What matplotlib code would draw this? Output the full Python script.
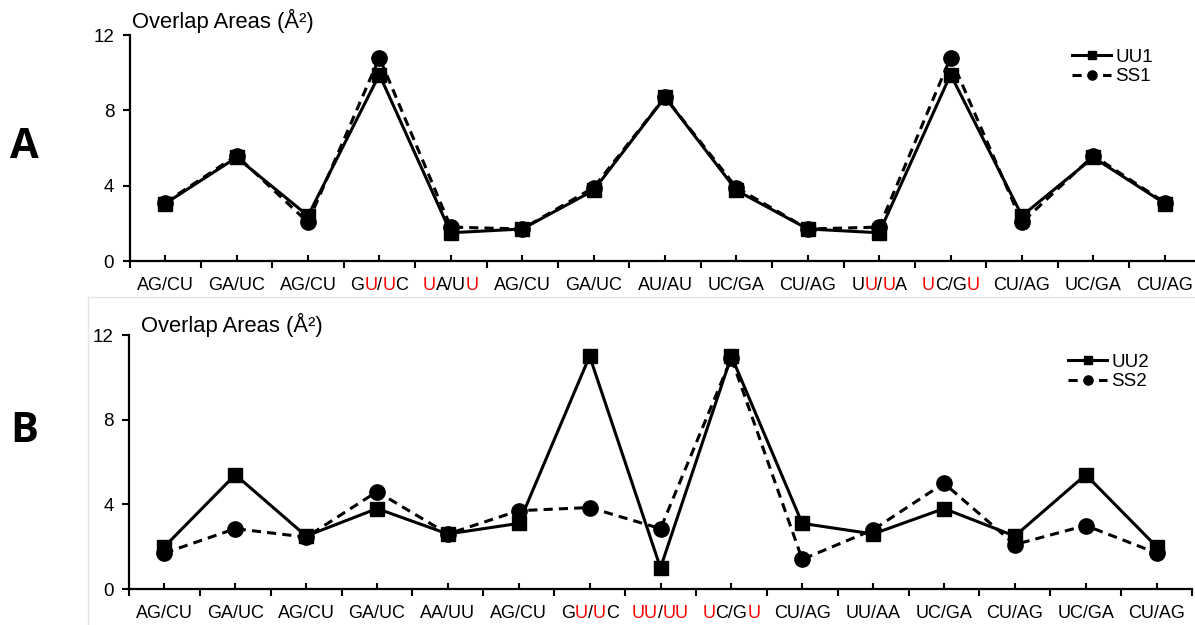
import matplotlib
matplotlib.use("Agg")
import matplotlib.pyplot as plt
from matplotlib.offsetbox import TextArea, HPacker, AnnotationBbox
from matplotlib.lines import Line2D

plt.rcParams['font.family'] = ['Liberation Sans', 'DejaVu Sans']

# panel A
labels_a = ["AG/CU", "GA/UC", "AG/CU", "GU/UC", "UA/UU", "AG/CU", "GA/UC", "AU/AU",
            "UC/GA", "CU/AG", "UU/UA", "UC/GU", "CU/AG", "UC/GA", "CU/AG"]
red_a = {3: [1, 3], 4: [0, 4], 10: [1, 3], 11: [0, 4]}
uu1 = [3.05, 5.5, 2.4, 9.9, 1.5, 1.7, 3.75, 8.7, 3.75, 1.7, 1.5, 9.9, 2.4, 5.5, 3.05]
ss1 = [3.1, 5.6, 2.05, 10.8, 1.8, 1.7, 3.9, 8.7, 3.9, 1.7, 1.8, 10.8, 2.05, 5.6, 3.1]

# panel B
labels_b = ["AG/CU", "GA/UC", "AG/CU", "GA/UC", "AA/UU", "AG/CU", "GU/UC", "UU/UU",
            "UC/GU", "CU/AG", "UU/AA", "UC/GA", "CU/AG", "UC/GA", "CU/AG"]
red_b = {6: [1, 3], 7: [0, 1, 3, 4], 8: [0, 4]}
uu2 = [2.0, 5.4, 2.5, 3.8, 2.6, 3.1, 11.0, 1.0, 11.0, 3.1, 2.6, 3.8, 2.5, 5.4, 2.0]
ss2 = [1.7, 2.85, 2.45, 4.6, 2.6, 3.7, 3.85, 2.85, 10.9, 1.4, 2.8, 5.0, 2.1, 3.0, 1.7]

W, H = 1195, 625
fig = plt.figure(figsize=(W / 100, H / 100), dpi=100)


def px_axes(l, t, r, b):
    return fig.add_axes([l / W, 1 - b / H, (r - l) / W, (b - t) / H])


def segments(text, reds):
    segs = []
    for k, ch in enumerate(text):
        col = 'red' if k in reds else 'black'
        if segs and segs[-1][1] == col:
            segs[-1][0] += ch
        else:
            segs.append([ch, col])
    return segs


def draw_panel(ax, labels, reds, uu, ss, names, leg_xy):
    x = list(range(len(labels)))
    l_ss, = ax.plot(x, ss, '--', color='black', lw=2.2, dashes=(3, 2),
                    marker='o', ms=11, label=names[1])
    l_uu, = ax.plot(x, uu, '-', color='black', lw=2.2,
                    marker='s', ms=10.5, label=names[0])
    ax.set_xlim(-0.5, 14.5)
    ax.set_ylim(0, 12)
    ax.set_yticks([0, 4, 8, 12])
    ax.set_xticks(x)
    ax.set_xticklabels([])
    ax.set_xticks([i - 0.5 for i in range(len(labels) + 1)], minor=True)
    ax.tick_params(axis='x', which='major', direction='in', length=4, width=1.5)
    ax.tick_params(axis='x', which='minor', direction='out', length=5, width=1.5)
    ax.tick_params(axis='y', direction='out', length=5, width=1.5,
                   labelsize=13.5, pad=6)
    for s in ['top', 'right']:
        ax.spines[s].set_visible(False)
    for s in ['left', 'bottom']:
        ax.spines[s].set_linewidth(1.6)
    for i, lab in enumerate(labels):
        parts = [TextArea(t, textprops=dict(color=c, fontsize=13))
                 for t, c in segments(lab, reds.get(i, []))]
        box = HPacker(children=parts, align='baseline', pad=0, sep=0)
        ab = AnnotationBbox(box, (i, 0), xycoords='data', xybox=(0, -24),
                            boxcoords='offset pixels', box_alignment=(0.5, 0.5),
                            frameon=False, pad=0, annotation_clip=False)
        ax.add_artist(ab)
    ax.legend(handles=[l_uu, l_ss], loc='center left',
              bbox_to_anchor=(leg_xy[0] / W, 1 - leg_xy[1] / H),
              bbox_transform=fig.transFigure, frameon=False, fontsize=13.5,
              handlelength=2.1, handletextpad=0.2, labelspacing=0.12,
              borderpad=0, borderaxespad=0, markerscale=0.6)


ax1 = px_axes(129.5, 35, 1200.5, 261)
draw_panel(ax1, labels_a, red_a, uu1, ss1, ['UU1', 'SS1'], (1072, 67))
ax2 = px_axes(129, 335, 1192, 589)
draw_panel(ax2, labels_b, red_b, uu2, ss2, ['UU2', 'SS2'], (1068, 372))

fig.text(132 / W, 1 - 28 / H, "Overlap Areas (Å²)", fontsize=15.8, va='baseline')
fig.text(141 / W, 1 - 332 / H, "Overlap Areas (Å²)", fontsize=15.8, va='baseline')

fig.text(24.5 / W, 1 - 148 / H, "A", fontsize=30, fontweight='bold',
         ha='center', va='center', family=['Open Sans', 'DejaVu Sans'])
fig.text(24 / W, 1 - 431 / H, "B", fontsize=30, fontweight='bold',
         ha='center', va='center', family=['Open Sans', 'DejaVu Sans'])

# faint panel border around B
fig.add_artist(Line2D([88 / W, 88 / W], [0, 1 - 297 / H], transform=fig.transFigure,
                      color='#e4e4e4', lw=1))
fig.add_artist(Line2D([88 / W, 1], [1 - 297 / H, 1 - 297 / H], transform=fig.transFigure,
                      color='#e4e4e4', lw=1))

fig.savefig("out.png", dpi=100)
